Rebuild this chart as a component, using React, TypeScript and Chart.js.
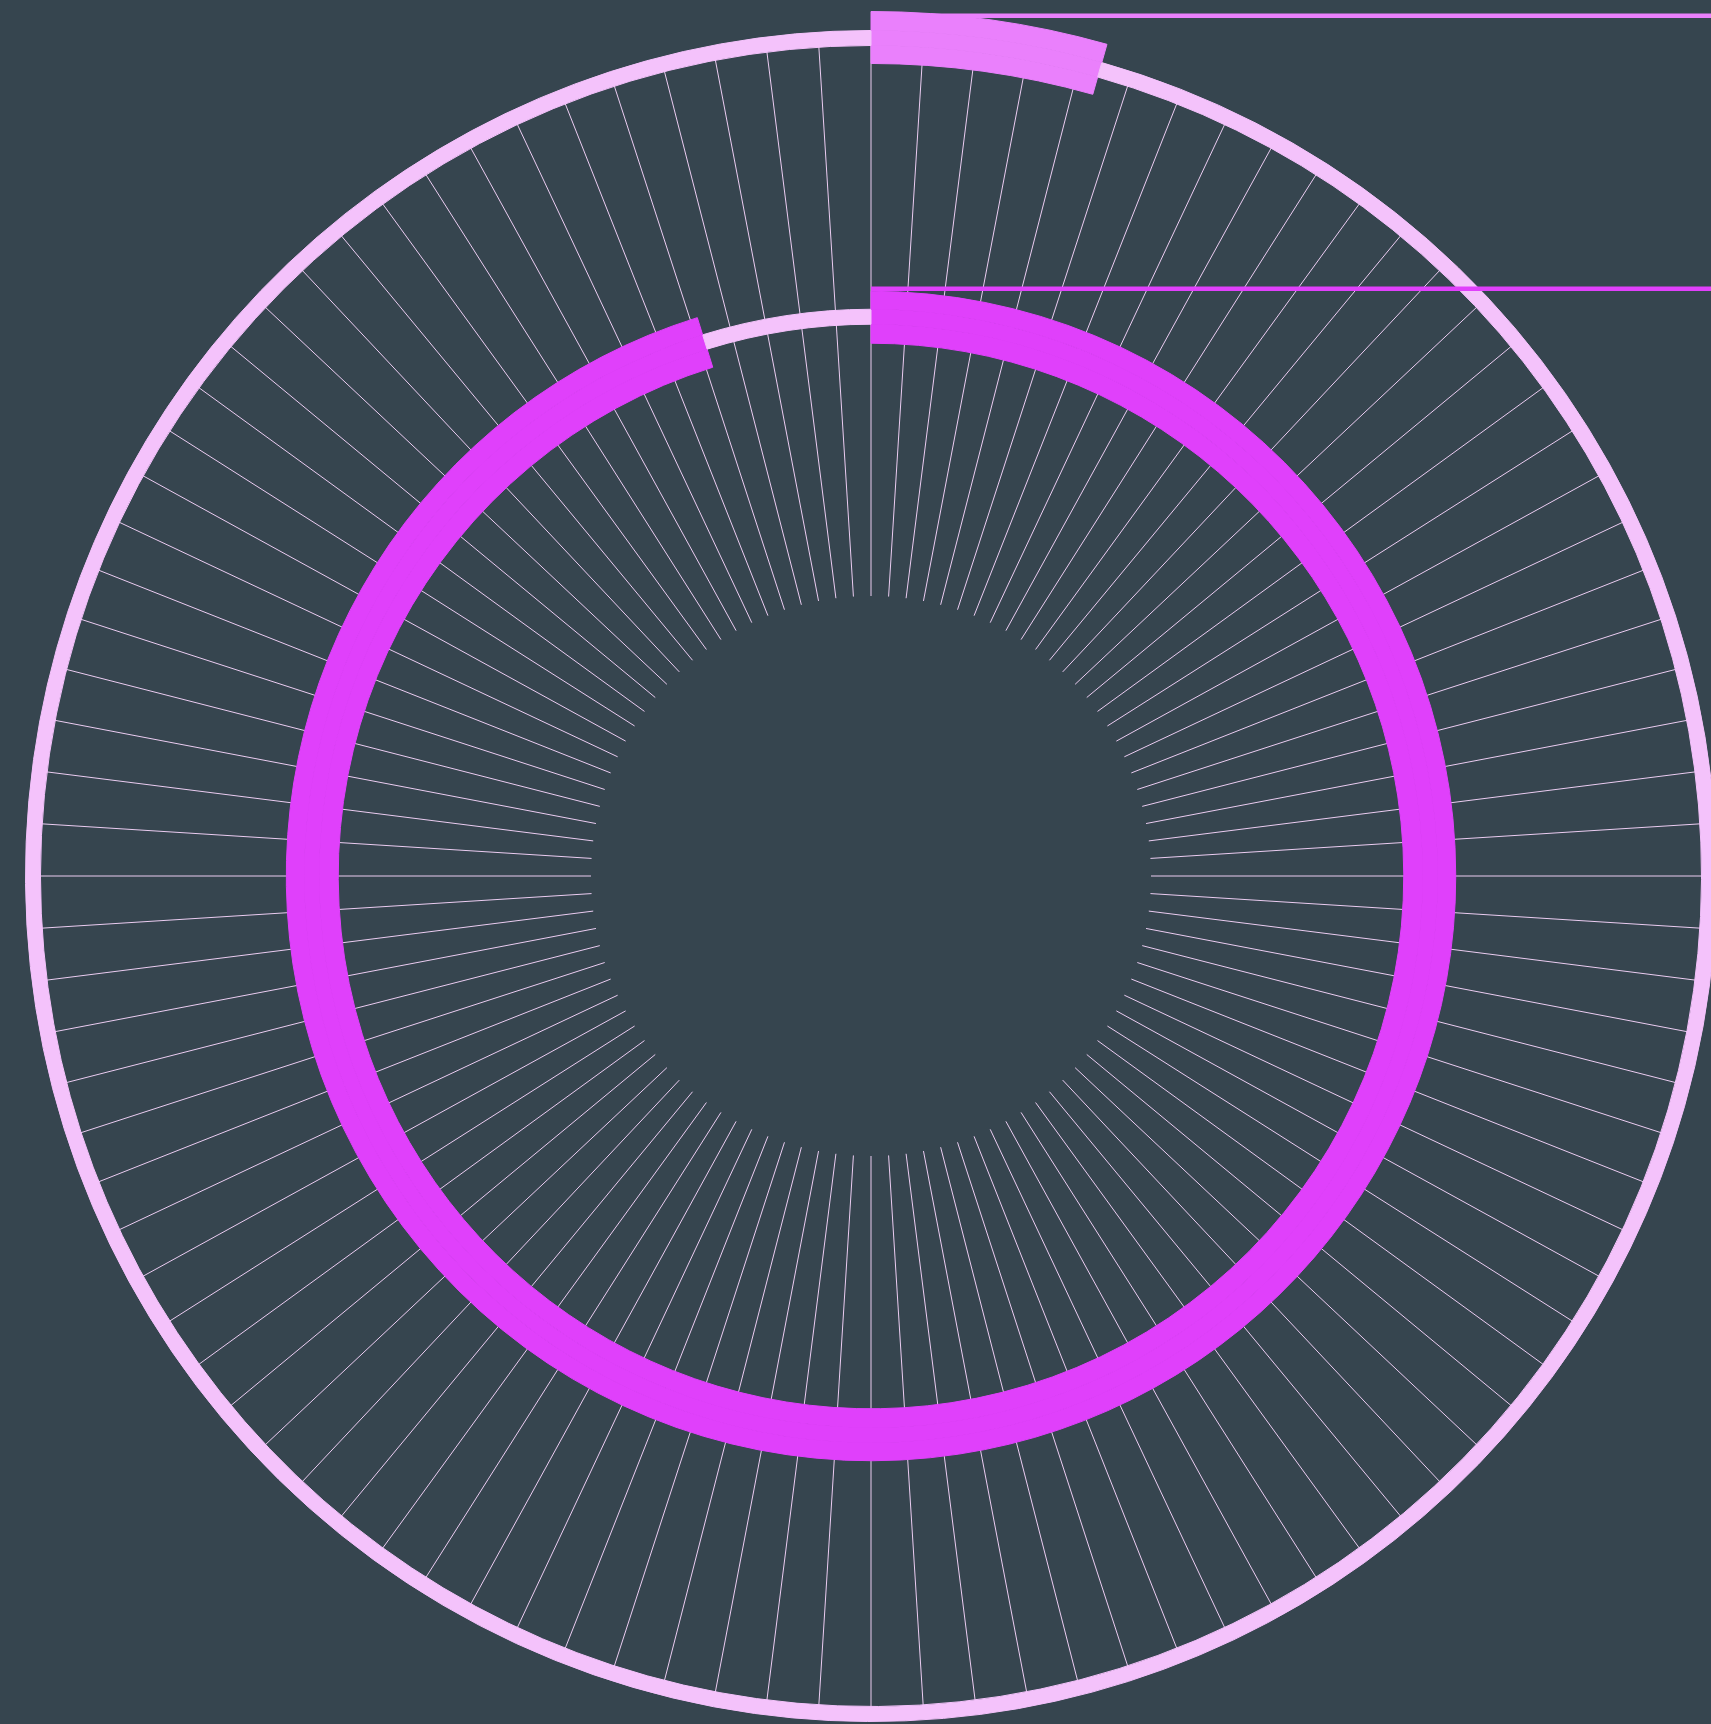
import React, { useEffect, useRef } from 'react';
import { Chart, registerables } from 'chart.js';

Chart.register(...registerables);

// ---- data ----
const SERIES_NAMES = ['Outer series', 'Inner series'];
const SERIES_VALUES = [4.4, 95.2];
const MAX_VALUE = 100;
const SPOKE_COUNT = 100;
const SPOKE_LABELS: string[] = Array.from({ length: SPOKE_COUNT }, (_, i) => String(i));

// ---- style ----
const BG = '#36454f';
const BAR_COLORS = ['#ea80fc', '#e040fb'];
const TRACK_COLOR = '#f4c2fb';
const SPOKE_COLOR = 'rgba(244,212,250,0.95)';
const CANVAS_SIZE = 1730;
const CUTOUT_PX = 280;
// ring band thicknesses (px), from outside to inside
const OUTER_EDGE = 19;
const TRACK_W = 15;
const INNER_EDGE = 18;
const GAP_BETWEEN = 228;
const GAP_INSIDE = 253;
const SPOKE_END = 838;
const LEADER_OFFSETS = [4.2, -2.6];
const LEADER_WIDTH = 4.5;

const TRANSPARENT = 'rgba(0,0,0,0)';

function barBand(i: number, withTrack: boolean, weight: number) {
  const v = SERIES_VALUES[i];
  const colors = [BAR_COLORS[i], withTrack ? TRACK_COLOR : TRANSPARENT];
  return {
    label: SERIES_NAMES[i],
    data: [v, MAX_VALUE - v],
    backgroundColor: colors,
    borderColor: colors,
    borderWidth: 1,
    hoverBorderWidth: 1,
    hoverOffset: 0,
    weight,
  };
}

function gapBand(weight: number) {
  return {
    label: 'gap',
    data: [MAX_VALUE],
    backgroundColor: [TRANSPARENT],
    borderColor: [TRANSPARENT],
    borderWidth: 1,
    hoverBorderWidth: 1,
    hoverOffset: 0,
    weight,
  };
}

const LEADER_DATASETS = [0, 4];

const leaderPlugin = {
  id: 'leaders',
  afterDatasetsDraw(chart: any) {
    const ctx = chart.ctx;
    LEADER_DATASETS.forEach((dsIndex, i) => {
      const arc = chart.getDatasetMeta(dsIndex).data[0];
      if (!arc) return;
      const { x, y, outerRadius } = arc.getProps(['x', 'y', 'outerRadius'], true);
      const ly = y - outerRadius + LEADER_OFFSETS[i];
      ctx.save();
      ctx.strokeStyle = BAR_COLORS[i];
      ctx.lineWidth = LEADER_WIDTH;
      ctx.beginPath();
      ctx.moveTo(x, ly);
      ctx.lineTo(chart.width, ly);
      ctx.stroke();
      ctx.restore();
    });
  },
};

export default function App() {
  const ref = useRef<HTMLCanvasElement | null>(null);

  useEffect(() => {
    if (!ref.current) return;
    const chart = new Chart(ref.current, {
      type: 'doughnut',
      data: {
        labels: SPOKE_LABELS,
        datasets: [
          barBand(0, false, OUTER_EDGE),
          barBand(0, true, TRACK_W),
          barBand(0, false, INNER_EDGE),
          gapBand(GAP_BETWEEN),
          barBand(1, false, INNER_EDGE),
          barBand(1, true, TRACK_W),
          barBand(1, false, OUTER_EDGE),
          gapBand(GAP_INSIDE),
        ] as any,
      },
      options: {
        responsive: false,
        animation: false,
        events: [],
        cutout: CUTOUT_PX,
        layout: { padding: 0 },
        plugins: {
          legend: { display: false },
          tooltip: { enabled: false },
        },
        scales: {
          r: {
            type: 'radialLinear',
            display: true,
            min: 0,
            max: MAX_VALUE,
            grid: { display: false },
            ticks: { display: false },
            pointLabels: { display: false },
            angleLines: {
              display: true,
              color: SPOKE_COLOR,
              lineWidth: 1,
              borderDash: [0, CUTOUT_PX, SPOKE_END - CUTOUT_PX, 4000],
            },
          },
        } as any,
      } as any,
      plugins: [leaderPlugin],
    });
    return () => chart.destroy();
  }, []);

  return (
    <div
      style={{
        position: 'fixed',
        left: 0,
        top: 0,
        width: 1711,
        height: 1724,
        overflow: 'hidden',
        background: BG,
      }}
    >
      <canvas
        ref={ref}
        width={CANVAS_SIZE}
        height={CANVAS_SIZE}
        style={{ position: 'absolute', left: 6, top: 11 }}
      />
    </div>
  );
}
